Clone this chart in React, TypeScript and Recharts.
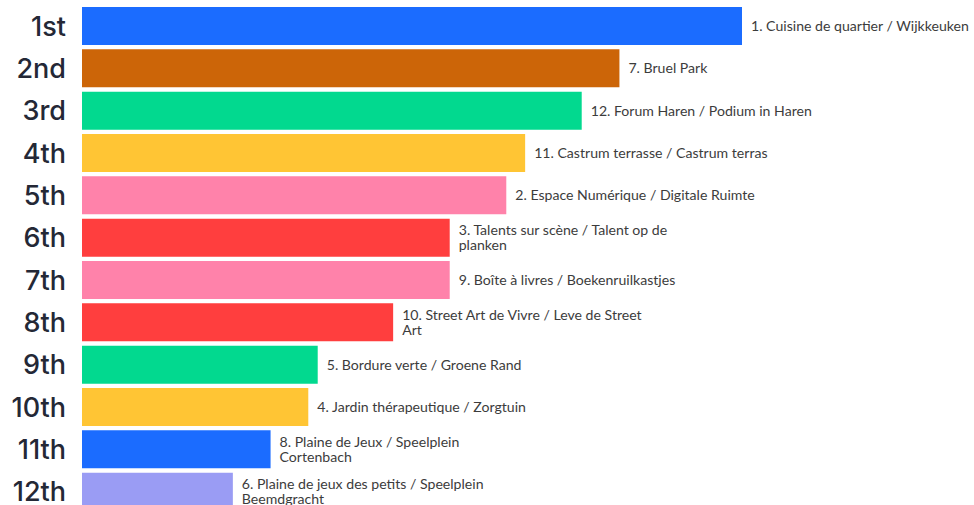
import React from 'react';
import { BarChart, Bar, XAxis, YAxis, Cell, LabelList } from 'recharts';

const ranks = ['1st', '2nd', '3rd', '4th', '5th', '6th', '7th', '8th', '9th', '10th', '11th', '12th'];
const projects = [
  '1. Cuisine de quartier / Wijkkeuken',
  '7. Bruel Park',
  '12. Forum Haren / Podium in Haren',
  '11. Castrum terrasse / Castrum terras',
  '2. Espace Numérique / Digitale Ruimte',
  '3. Talents sur scène / Talent op de\nplanken',
  '9. Boîte à livres / Boekenruilkastjes',
  '10. Street Art de Vivre / Leve de Street\nArt',
  '5. Bordure verte / Groene Rand',
  '4. Jardin thérapeutique / Zorgtuin',
  '8. Plaine de Jeux / Speelplein\nCortenbach',
  '6. Plaine de jeux des petits / Speelplein\nBeemdgracht',
];
const votes = [70, 57, 53, 47, 45, 39, 39, 33, 25, 24, 20, 16];

const palette = [
  '#1b6cff', '#cc6508', '#02d98f', '#ffc534', '#ff82aa', '#ff3e3e',
  '#ff82aa', '#ff3e3e', '#02d98f', '#ffc534', '#1b6cff', '#9a9cf4',
];

const data = ranks.map((rank, i) => ({ rank, project: projects[i], votes: votes[i] }));

const LABEL_FONT = 'Lato, "Noto Sans", sans-serif';

const ProjectLabel = (props: any) => {
  const { x, y, width, height, value } = props;
  const lines = String(value).split('\n');
  const lh = 15.5;
  const cy = y + height / 2 - 1;
  const startY = cy - ((lines.length - 1) * lh) / 2;
  return (
    <text
      x={x + width + 9}
      y={startY}
      fill="#3c3c3c"
      fontSize={14.1}
      fontFamily={LABEL_FONT}
      dominantBaseline="central"
    >
      {lines.map((l, i) => (
        <tspan key={i} x={x + width + 9} y={startY + i * lh}>
          {l}
        </tspan>
      ))}
    </text>
  );
};

const RankTick = (props: any) => {
  const { x, y, payload } = props;
  return (
    <text
      x={x}
      y={y}
      textAnchor="end"
      dominantBaseline="central"
      fill="#242836"
      fontSize={27}
      fontWeight={500}
      fontFamily='Inter, Roboto, sans-serif'
    >
      {payload.value}
    </text>
  );
};

export default function App() {
  return (
    <div style={{ position: 'absolute', top: 0, left: 0, width: 974, height: 505, overflow: 'hidden', background: '#fff' }}>
      <BarChart
        width={974}
        height={513}
        data={data}
        layout="vertical"
        margin={{ top: 5, right: 232, bottom: 0, left: 0 }}
        barCategoryGap={2}
      >
        <XAxis type="number" domain={[0, 70]} hide />
        <YAxis
          type="category"
          dataKey="rank"
          width={82}
          axisLine={false}
          tickLine={false}
          tickSize={6}
          tickMargin={10}
          tick={<RankTick />}
          interval={0}
        />
        <Bar dataKey="votes" barSize={38} isAnimationActive={false}>
          {data.map((d, i) => (
            <Cell key={d.rank} fill={palette[i]} />
          ))}
          <LabelList dataKey="project" content={<ProjectLabel />} />
        </Bar>
      </BarChart>
    </div>
  );
}
